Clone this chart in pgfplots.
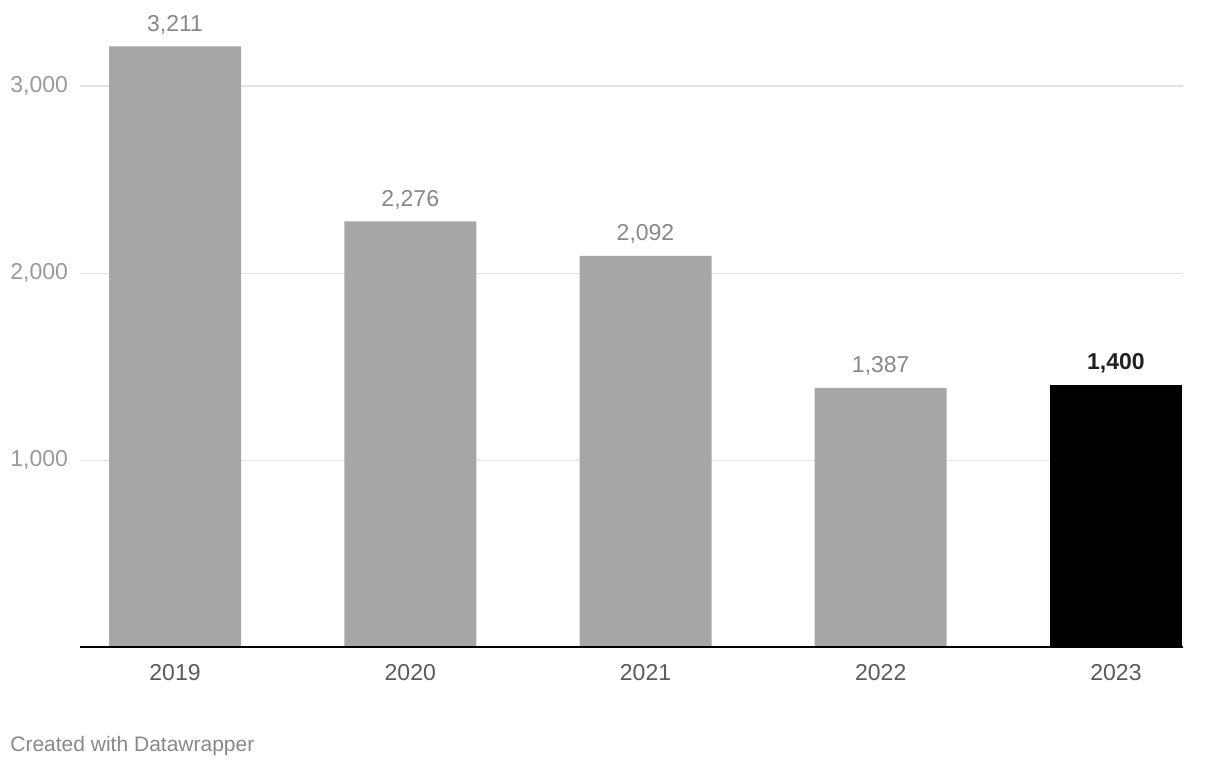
\documentclass[border=0pt]{standalone}
\usepackage{pgfplots}
\pgfplotsset{compat=1.18}
\usepackage{fontspec}
\setmainfont{Liberation Sans}
\definecolor{bargray}{HTML}{A6A6A6}
\definecolor{ticklab}{HTML}{9A9A9A}
\definecolor{vallab}{HTML}{888888}
\definecolor{xlab}{HTML}{5A5A5A}
\definecolor{gridc}{HTML}{E3E3E3}
\begin{document}
\begin{tikzpicture}[x=0.5pt,y=0.5pt]
\useasboundingbox (-80,-122.5) rectangle (1140,647.5);
\begin{axis}[
  at={(0,0)}, anchor=south west,
  scale only axis,
  width=551.5pt, height=308.85pt,
  xmin=-0.404, xmax=4.285,
  ymin=0, ymax=3300,
  axis lines*=left,
  y axis line style={draw=none},
  x axis line style={draw=none},
  xtick={0,1,2,3,4},
  xticklabels={2019,2020,2021,2022,2023},
  xtick style={draw=none},
  ytick style={draw=none},
  xticklabel style={font=\fontsize{11.5}{13}\selectfont, text=xlab, yshift=-5pt},
  ytick={1000,2000,3000},
  ymajorgrids,
  grid style={gridc, line width=0.6pt},
  yticklabels={},
  clip=false,
  nodes near coords style={font=\fontsize{11.5}{13}\selectfont},
  /pgf/number format/1000 sep={,},
  /pgf/number format/assume math mode=true,
]
\addplot[ybar, bar width=66pt, fill=bargray, draw=none, bar shift=0pt,
  nodes near coords,
  nodes near coords style={text=vallab, anchor=south, yshift=2.5pt}]
  coordinates {(0,3211) (1,2276) (2,2092) (3,1387)};
\addplot[ybar, bar width=66pt, fill=black, draw=none, bar shift=0pt,
  nodes near coords,
  nodes near coords style={text=black!87, anchor=south, yshift=2.5pt, font=\fontsize{11.5}{13}\selectfont\bfseries}]
  coordinates {(4,1400)};
\draw[black, line width=1pt] (rel axis cs:0,0) -- (rel axis cs:1,0);
\node[anchor=west, text=ticklab, font=\fontsize{11.5}{13}\selectfont, inner sep=0pt]
    at ([xshift=-35pt]axis cs:-0.404,1000) {1,000};
\node[anchor=west, text=ticklab, font=\fontsize{11.5}{13}\selectfont, inner sep=0pt]
    at ([xshift=-35pt]axis cs:-0.404,2000) {2,000};
\node[anchor=west, text=ticklab, font=\fontsize{11.5}{13}\selectfont, inner sep=0pt]
    at ([xshift=-35pt]axis cs:-0.404,3000) {3,000};
\end{axis}
\node[anchor=west, text=vallab, font=\fontsize{10.5}{12}\selectfont, inner sep=0pt] at (10-80, 647.5-746) {Created with Datawrapper};
\end{tikzpicture}
\end{document}
